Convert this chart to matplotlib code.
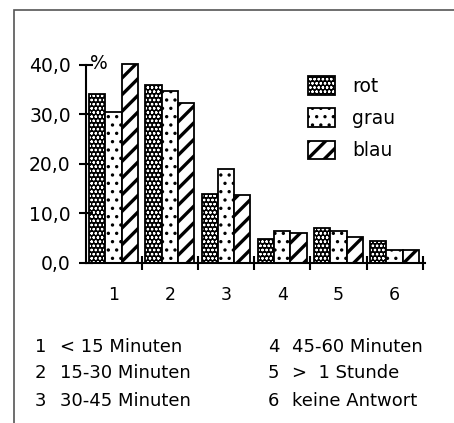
import matplotlib
matplotlib.use("Agg")
import matplotlib.pyplot as plt
from matplotlib.patches import Rectangle
import numpy as np

# ---- data ----
categories = ["1", "2", "3", "4", "5", "6"]
descriptions = ["< 15 Minuten", "15-30 Minuten", "30-45 Minuten",
                "45-60 Minuten", ">  1 Stunde", "keine Antwort"]
series_names = ["rot", "grau", "blau"]
rot = [34.2, 36.0, 14.0, 4.8, 7.0, 4.3]
grau = [30.5, 34.8, 19.0, 6.4, 6.5, 2.6]
blau = [40.2, 32.3, 13.6, 6.0, 5.3, 2.6]
yticks = [0, 10, 20, 30, 40]
ytick_labels = ["0,0", "10,0", "20,0", "30,0", "40,0"]

plt.rcParams['font.family'] = ['DejaVu Sans']

W, H = 454, 423
fig = plt.figure(figsize=(W / 100, H / 100), dpi=100)

def fx(px):
    return px / W

def fy(py):
    return 1 - py / H

# outer frame
fig.patches.append(Rectangle((fx(14), -0.2), 2.0, fy(10) + 0.2, transform=fig.transFigure,
                             fill=False, edgecolor='#555555', linewidth=1.2))

ax = fig.add_axes([fx(86), fy(262.7), fx(425) - fx(86), fy(65) - fy(262.7)])

x = np.arange(len(categories))
w = 0.29
styles = [
    dict(facecolor='black', hatchcolor='white', hatch='oooo', hlw=0.6),
    dict(facecolor='white', hatchcolor='black', hatch='..', hlw=1.2),
    dict(facecolor='white', hatchcolor='black', hatch='//', hlw=2.4),
]

def set_hlw(p, lw):
    if hasattr(p, 'set_hatch_linewidth'):
        p.set_hatch_linewidth(lw)
    else:
        p._hatch_linewidth = lw

handles = []
for k, (vals, st) in enumerate(zip([rot, grau, blau], styles)):
    with plt.rc_context({'hatch.linewidth': st['hlw']}):
        b1 = ax.bar(x + (k - 1) * w, vals, width=w, facecolor=st['facecolor'],
                    edgecolor=st['hatchcolor'], linewidth=0, hatch=st['hatch'], clip_on=False)
    for p in b1.patches:
        set_hlw(p, st['hlw'])
    b2 = ax.bar(x + (k - 1) * w, vals, width=w, fill=False,
                edgecolor='black', linewidth=1.3, clip_on=False)
    handles.append((b1.patches[0], b2.patches[0]))

ax.set_xlim(-0.49, 5.54)
ax.set_ylim(0, 40)
for s in ['top', 'right']:
    ax.spines[s].set_visible(False)
for s in ['left', 'bottom']:
    ax.spines[s].set_linewidth(1.5)

ax.set_yticks(yticks)
ax.set_yticklabels(ytick_labels, fontsize=13.5)
ax.tick_params(axis='y', direction='inout', length=10, width=1.5, pad=6)

ax.set_xticks(x + 0.5)
ax.set_xticklabels([])
ax.set_xticks(x, minor=True)
ax.set_xticklabels(categories, minor=True, fontsize=12.5)
ax.tick_params(axis='x', which='major', direction='inout', length=10, width=1.5)
ax.tick_params(axis='x', which='minor', length=0, pad=17)

ax.text(-0.42, 40.4, "%", fontsize=13.5, ha='left', va='center')

leg = ax.legend(handles, series_names, loc='upper left',
                bbox_to_anchor=(fx(308), fy(76)), bbox_transform=fig.transFigure,
                frameon=False, fontsize=13.5, handlelength=1.45, handleheight=1.15,
                handletextpad=0.9, labelspacing=0.68, borderpad=0, borderaxespad=0)
for p in leg.findobj(Rectangle):
    h = p.get_hatch()
    if h:
        for st in styles:
            if st['hatch'] == h:
                set_hlw(p, st['hlw'])

# category descriptions below
col_num_x = [35, 268]
col_txt_x = [60, 292]
row_y = [346.7, 373.3, 400.7]
for i, (c, d) in enumerate(zip(categories, descriptions)):
    col, row = divmod(i, 3)
    fig.text(fx(col_num_x[col]), fy(row_y[row]), c, fontsize=13, ha='left', va='center')
    fig.text(fx(col_txt_x[col]), fy(row_y[row]), d, fontsize=13, ha='left', va='center')

fig.savefig("out.png", dpi=100)
